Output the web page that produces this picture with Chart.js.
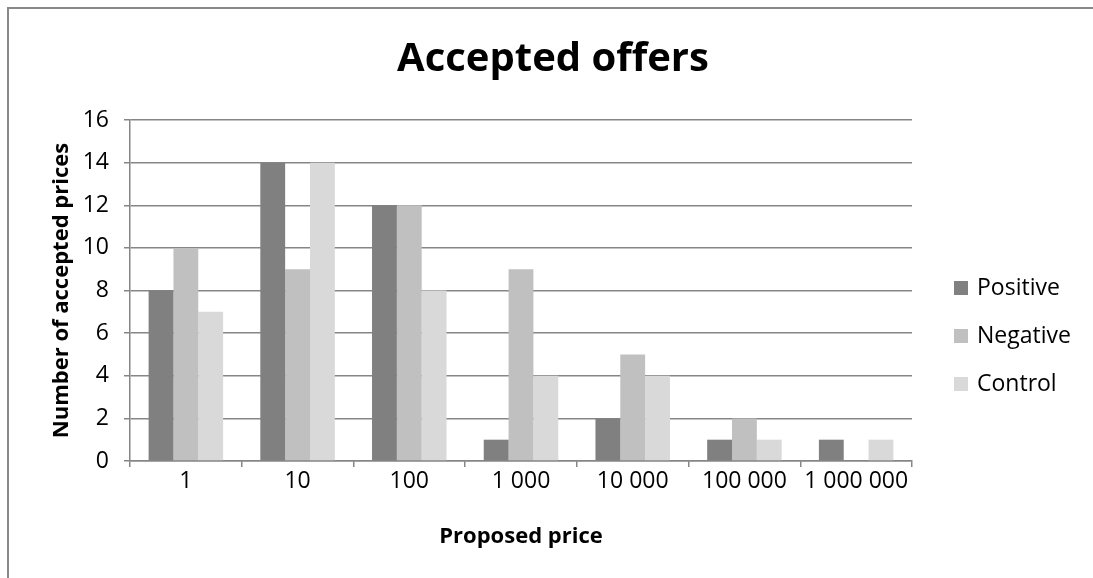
<!DOCTYPE html>
<html lang="en">

<head>
    <meta charset="UTF-8">
    <title>Accepted offers</title>
    <script src="https://cdn.jsdelivr.net/npm/chart.js"></script>
    <style>
        html, body {
            margin: 0;
            overflow: hidden;
            background: #ffffff;
            font-family: 'Open Sans', sans-serif;
        }

        .chart-container {
            position: relative;
            width: 1093px;
            height: 578px;
            overflow: hidden;
        }

        #myChart {
            display: block;
        }

        /* only the top and left edges of the chart frame are in view */
        .frame {
            position: absolute;
            left: 7px;
            top: 7px;
            width: 1100px;
            height: 600px;
            border-top: 2px solid #888888;
            border-left: 2px solid #888888;
            pointer-events: none;
        }
    </style>
</head>

<body>
    <div class="chart-container">
        <canvas id="myChart" width="1093" height="578"></canvas>
        <div class="frame"></div>
    </div>
</body>
<script>

    const categories = ['1', '10', '100', '1 000', '10 000', '100 000', '1 000 000'];
    const positive = [8, 14, 12, 1, 2, 1, 1];
    const negative = [10, 9, 12, 9, 5, 2, 0];
    const control = [7, 14, 8, 4, 4, 1, 1];

    const GREYS = {
        dark: '#808080',
        mid: '#c0c0c0',
        light: '#d9d9d9',
        axis: '#868686'
    };

    const FONT = "'Open Sans', sans-serif";
    const TITLE = 'Accepted offers';

    // title centred on the whole canvas (the built-in one only spans the plot + padding)
    const wideTitle = {
        id: 'wideTitle',
        afterDraw(chart) {
            const c = chart.ctx;
            c.save();
            c.font = 'bold 40px ' + FONT;
            c.textAlign = 'center';
            c.textBaseline = 'middle';
            c.fillStyle = '#000000';
            c.fillText(TITLE, 553, 60);
            c.restore();
        }
    };

    // legend drawn by hand to the right of the plot, Excel style
    const sideLegend = {
        id: 'sideLegend',
        afterDraw(chart) {
            const c = chart.ctx;
            const area = chart.chartArea;
            const sets = chart.data.datasets;
            const step = 48;
            const x = area.right + 42;
            const y0 = area.top + 168;
            c.save();
            c.font = '23px ' + FONT;
            c.textBaseline = 'middle';
            sets.forEach((ds, i) => {
                const y = y0 + i * step;
                c.fillStyle = ds.backgroundColor;
                c.fillRect(x, y - 7, 14, 14);
                c.fillStyle = '#000000';
                c.fillText(ds.label, x + 23, y);
            });
            c.restore();
        }
    };

    const data = {
        labels: categories,
        datasets: [
            { label: 'Positive', data: positive, backgroundColor: GREYS.dark },
            { label: 'Negative', data: negative, backgroundColor: GREYS.mid },
            { label: 'Control', data: control, backgroundColor: GREYS.light }
        ]
    };

    const config = {
        type: 'bar',
        data: data,
        options: {
            animation: false,
            responsive: false,
            events: [],
            layout: {
                padding: { left: 0, right: 181, top: 120, bottom: 0 }
            },
            datasets: {
                bar: {
                    categoryPercentage: 0.667,
                    barPercentage: 1,
                    borderWidth: 0
                }
            },
            plugins: {
                legend: { display: false },
                tooltip: { enabled: false },
                title: { display: false }
            },
            scales: {
                x: {
                    afterFit(scale) { scale.height = 117; },
                    border: { color: GREYS.axis, width: 1.5 },
                    grid: {
                        display: true,
                        drawOnChartArea: false,
                        drawTicks: true,
                        tickLength: 6,
                        lineWidth: 1.5,
                        offset: true,
                        color: GREYS.axis
                    },
                    ticks: {
                        color: '#000000',
                        padding: 1,
                        maxRotation: 0,
                        autoSkip: false,
                        font: { family: FONT, size: 23 }
                    },
                    title: {
                        display: true,
                        text: 'Proposed price',
                        color: '#000000',
                        font: { family: FONT, size: 22, weight: 'bold' },
                        padding: { top: 0, bottom: 28 }
                    }
                },
                y: {
                    min: 0,
                    max: 16,
                    afterFit(scale) { scale.width = 130; },
                    border: { color: GREYS.axis, width: 1.5 },
                    grid: {
                        color: GREYS.axis,
                        lineWidth: 1.5,
                        tickLength: 6
                    },
                    ticks: {
                        stepSize: 2,
                        color: '#000000',
                        padding: 15,
                        font: { family: FONT, size: 23 }
                    },
                    title: {
                        display: true,
                        text: 'Number of accepted prices',
                        color: '#000000',
                        font: { family: FONT, size: 22, weight: 'bold' },
                        padding: { top: 49, bottom: 0 }
                    }
                }
            }
        },
        plugins: [wideTitle, sideLegend]
    };

    const ctx = document.getElementById('myChart');
    const chart = new Chart(ctx, config);

</script>

</html>
